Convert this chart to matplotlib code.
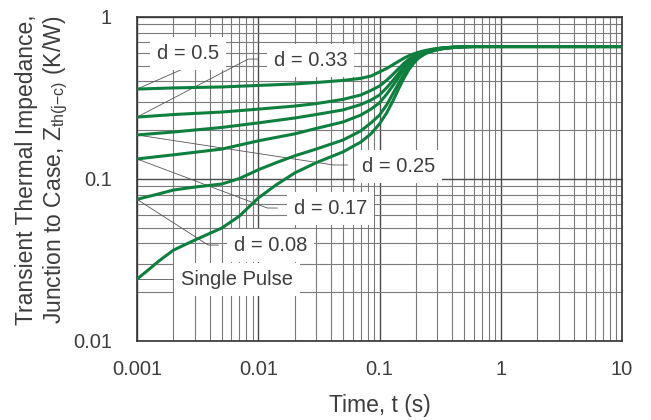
import matplotlib
matplotlib.use("Agg")
import matplotlib.pyplot as plt
from matplotlib.ticker import NullFormatter, LogLocator

plt.rcParams["font.family"] = ["Liberation Sans", "DejaVu Sans"]
plt.rcParams["mathtext.fontset"] = "custom"
plt.rcParams["mathtext.rm"] = "Liberation Sans"

# pulse width (s)
t_upper = [0.001, 0.002, 0.005, 0.01, 0.02, 0.03, 0.05,
           0.07, 0.085, 0.1, 0.115, 0.13, 0.145, 0.16, 0.175, 0.19, 0.21, 0.24,
           0.28, 0.33, 0.4, 0.5, 0.6, 1, 10]
t_d008 = [0.001, 0.0015, 0.002, 0.003, 0.005, 0.007, 0.01, 0.014, 0.02, 0.03, 0.05,
          0.07, 0.085, 0.1, 0.115, 0.13, 0.145, 0.16, 0.175, 0.19, 0.21, 0.24,
          0.28, 0.33, 0.4, 0.5, 0.6, 1, 10]
t_single = [0.001, 0.00125, 0.0015, 0.002, 0.003, 0.005, 0.007, 0.01, 0.014, 0.02, 0.03, 0.05,
            0.07, 0.085, 0.1, 0.115, 0.13, 0.145, 0.16, 0.175, 0.19, 0.21, 0.24,
            0.28, 0.33, 0.4, 0.5, 0.6, 1, 10]

# Zth(j-c) in K/W for each duty cycle
z_d050 = [0.359, 0.365, 0.370, 0.378, 0.386, 0.394, 0.406,
          0.418, 0.432, 0.458, 0.482, 0.509, 0.535, 0.558, 0.577, 0.591, 0.606, 0.622,
          0.635, 0.645, 0.652, 0.656, 0.657, 0.657, 0.657]
z_d033 = [0.241, 0.250, 0.259, 0.270, 0.282, 0.292, 0.310,
          0.330, 0.352, 0.375, 0.408, 0.445, 0.483, 0.520, 0.549, 0.570, 0.594, 0.615,
          0.632, 0.644, 0.651, 0.656, 0.657, 0.657, 0.657]
z_d025 = [0.187, 0.195, 0.208, 0.222, 0.238, 0.250, 0.267,
          0.288, 0.307, 0.330, 0.367, 0.408, 0.452, 0.495, 0.529, 0.556, 0.585, 0.611,
          0.629, 0.642, 0.650, 0.656, 0.657, 0.657, 0.657]
z_d017 = [0.133, 0.141, 0.153, 0.172, 0.190, 0.205, 0.225,
          0.248, 0.270, 0.295, 0.335, 0.380, 0.429, 0.474, 0.513, 0.543, 0.576, 0.606,
          0.626, 0.640, 0.649, 0.655, 0.657, 0.657, 0.657]
z_d008 = [0.0749, 0.0808, 0.0855, 0.0892, 0.0931, 0.1007, 0.114, 0.126, 0.139, 0.153, 0.174,
          0.198, 0.222, 0.248, 0.288, 0.340, 0.394, 0.445, 0.489, 0.525, 0.565, 0.600,
          0.623, 0.638, 0.648, 0.655, 0.657, 0.657, 0.657]
z_single = [0.0241, 0.0276, 0.0310, 0.0364, 0.0420, 0.0498, 0.0591, 0.0763, 0.0918, 0.109, 0.126, 0.147,
            0.169, 0.190, 0.219, 0.257, 0.307, 0.365, 0.423, 0.474, 0.515, 0.558, 0.595,
            0.619, 0.636, 0.647, 0.655, 0.657, 0.657, 0.657]

curves = [(t_upper, z_d050), (t_upper, z_d033), (t_upper, z_d025),
          (t_upper, z_d017), (t_d008, z_d008), (t_single, z_single)]
labels = ["d = 0.5", "d = 0.33", "d = 0.25", "d = 0.17", "d = 0.08", "Single Pulse"]

# label callouts: (elbow of leader, end of leader, text centre)
callouts = [
    ((0.00249, 0.484), (0.00249, 0.484), (0.00264, 0.595)),
    ((0.00827, 0.550), (0.0100, 0.550), (0.0269, 0.539)),
    ((0.0417, 0.122), (0.0544, 0.122), (0.1436, 0.1195)),
    ((0.01187, 0.0662), (0.01435, 0.0662), (0.0394, 0.0659)),
    ((0.00386, 0.0391), (0.00467, 0.0391), (0.01256, 0.0389)),
    ((0.00198, 0.0241), (0.00198, 0.0241), (0.0067, 0.0240)),
]

xticks = [0.001, 0.01, 0.1, 1, 10]
xtick_labels = ["0.001", "0.01", "0.1", "1", "10"]
yticks = [0.01, 0.1, 1]
ytick_labels = ["0.01", "0.1", "1"]

GREEN = "#0f7f3f"
TXT = "#3d3d3d"
FS = 14.5
FS_LAB = 16.5

fig = plt.figure(figsize=(6.51, 4.20), dpi=100)
ax = fig.add_axes([137 / 651, 1 - 341 / 420, (622 - 137) / 651, (341 - 17) / 420])
ax.set_xscale("log")
ax.set_yscale("log")
ax.set_xlim(0.001, 10)
ax.set_ylim(0.01, 1)
ax.set_axisbelow(True)

ax.xaxis.set_minor_locator(LogLocator(base=10, subs=range(2, 10), numticks=20))
ax.yaxis.set_minor_locator(LogLocator(base=10, subs=range(2, 10), numticks=20))
ax.xaxis.set_minor_formatter(NullFormatter())
ax.yaxis.set_minor_formatter(NullFormatter())
ax.grid(which="major", color="#4a4a4a", lw=1.0)
ax.grid(which="minor", color="#7a7a7a", lw=0.8)

for tt, z in curves:
    ax.plot(tt, z, color=GREEN, lw=2.2, zorder=5, solid_joinstyle="round")

for (tt, z), lab, (p1, p2, pt) in zip(curves, labels, callouts):
    ax.plot([tt[0], p1[0], p2[0]], [z[0], p1[1], p2[1]], color="#555555", lw=0.6, zorder=3)
    ax.text(pt[0], pt[1], lab, ha="center", va="center", fontsize=FS, color=TXT, zorder=4,
            bbox=dict(boxstyle="square,pad=0.35", fc="white", ec="none"))

ax.set_xticks(xticks)
ax.set_xticklabels(xtick_labels)
ax.set_yticks(yticks)
ax.set_yticklabels(ytick_labels)
ax.tick_params(which="both", length=0, labelsize=FS, labelcolor=TXT)
ax.tick_params(axis="x", pad=14)
ax.tick_params(axis="y", pad=18)

for s in ax.spines.values():
    s.set_color("#333333")
    s.set_linewidth(1.2)

ax.set_xlabel("Time, t (s)", fontsize=FS_LAB, color=TXT)
ax.xaxis.set_label_coords(0.5, -0.163)
ax.set_ylabel("Transient Thermal Impedance,\nJunction to Case, Z$_{\\mathregular{th(j{-}c)}}$ (K/W)",
              fontsize=FS_LAB, color=TXT, linespacing=1.2)
ax.yaxis.set_label_coords(-0.138, 0.528)

fig.savefig("out.png", dpi=100)
